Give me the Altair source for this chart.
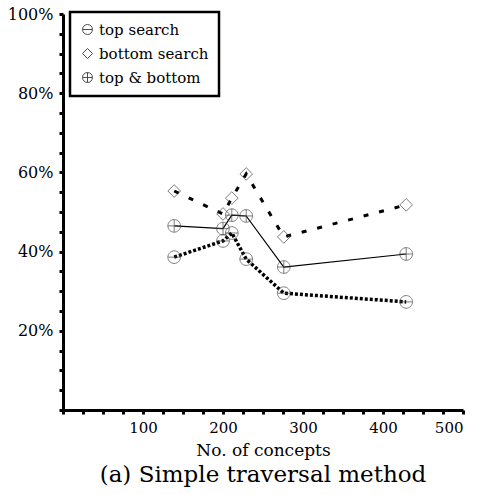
import altair as alt
import pandas as pd

concepts = [139, 200, 211, 229, 276, 429]
top_search = [38.6, 42.7, 44.7, 38.1, 29.5, 27.3]
bottom_search = [55.3, 49.5, 53.5, 59.6, 43.7, 51.8]
top_bottom = [46.5, 45.8, 49.2, 49.0, 36.1, 39.4]
series_names = ["top search", "bottom search", "top & bottom"]
x_ticks = list(range(0, 501, 25))
y_ticks = list(range(0, 101, 5))

rows = []
for name, vals in zip(series_names, [top_search, bottom_search, top_bottom]):
    for c, v in zip(concepts, vals):
        rows.append({"series": name, "concepts": c, "pct": v})
df = pd.DataFrame(rows)

FONT = "DejaVu Serif"
circ = "M-1,0A1,1,0,1,1,1,0A1,1,0,1,1,-1,0Z"
shape_minus = circ + "M-1,0L1,0"
shape_plus = circ + "M-1,0L1,0M0,-1L0,1"

xs = alt.X("concepts:Q", scale=alt.Scale(domain=[0, 500], nice=False),
           axis=alt.Axis(values=x_ticks, title="No. of concepts",
                         labelExpr="datum.value >= 100 && datum.value % 100 == 0 ? datum.value : ''"))
ys = alt.Y("pct:Q", scale=alt.Scale(domain=[0, 100], nice=False),
           axis=alt.Axis(values=y_ticks, title=None, labelFontSize=16,
                         labelExpr="datum.value > 0 && datum.value % 20 == 0 ? datum.value + '%' : ''"))

base = alt.Chart(df)

line_top = base.transform_filter(alt.datum.series == "top search").mark_line(
    color="black", strokeWidth=3.5, strokeDash=[3, 2]).encode(x=xs, y=ys)
line_bottom = base.transform_filter(alt.datum.series == "bottom search").mark_line(
    color="black", strokeWidth=3, strokeDash=[5, 11]).encode(x=xs, y=ys)
line_both = base.transform_filter(alt.datum.series == "top & bottom").mark_line(
    color="black", strokeWidth=1.2).encode(x=xs, y=ys)

points = base.mark_point(filled=False, color="#444", strokeWidth=1, size=160).encode(
    x=xs, y=ys,
    shape=alt.Shape("series:N",
                    scale=alt.Scale(domain=series_names,
                                    range=[shape_minus, "diamond", shape_plus]),
                    legend=alt.Legend(title=None, orient="none", legendX=7, legendY=-2,
                                      strokeColor="black",
                                      fillColor="white", padding=10,
                                      labelFont=FONT, labelFontSize=15, labelColor="black",
                                      symbolSize=100, symbolStrokeColor="black",
                                      symbolStrokeWidth=1, rowPadding=8, labelOffset=4)),
)

chart = alt.layer(line_top, line_bottom, line_both, points).properties(
    width=400, height=396,
    title=alt.TitleParams("(a) Simple traversal method", orient="bottom", font=FONT,
                          fontSize=23, fontWeight="normal", color="black", offset=6),
    autosize=alt.AutoSizeParams(type="none"),
    padding={"left": 63, "top": 14, "right": 14, "bottom": 85},
).configure(background="white", font=FONT).configure_view(stroke=None).configure_axis(
    grid=False, domainColor="black", domainWidth=3, tickColor="black", tickWidth=3,
    tickSize=4, labelFont=FONT, labelFontSize=15, labelColor="black",
    titleFont=FONT, titleFontSize=17, titleFontWeight="normal", titleColor="black",
    labelOverlap=False, labelPadding=6, titlePadding=7,
).configure_legend(strokeWidth=2.5, labelFont=FONT)

chart.save("out.html", embed_options={"renderer": "svg", "actions": False})
